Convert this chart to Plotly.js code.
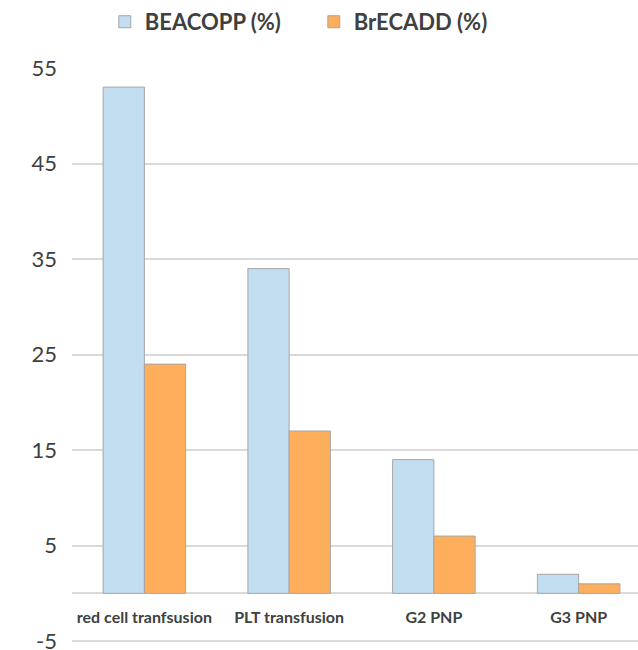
<!DOCTYPE html>
<html>
<head>
<meta charset="utf-8">
<script src="https://cdn.plot.ly/plotly-3.0.1.min.js"></script>
<style>
  html, body { margin: 0; padding: 0; background: #fff; overflow: hidden; }
  #chart { width: 638px; height: 650px; }
</style>
</head>
<body>
<div id="chart"></div>
<script>
// Adverse event rates by regimen
const categories = ["red cell tranfsusion", "PLT transfusion", "G2 PNP", "G3 PNP"];
const beacopp = [53, 34, 14, 2];
const brecadd = [24, 17, 6, 1];
const seriesNames = ["BEACOPP (%)", "BrECADD (%)"];
const yTickVals = [-5, 5, 15, 25, 35, 45, 55];
const yTickText = ["-5", "5", "15", "25", "35", "45", "55"];

const textColor = "#404040";
const gridColor = "#d9d9d9";
const yMin = -5.3, yMax = 55;

const traces = [
  {
    type: "bar",
    name: seriesNames[0],
    x: categories,
    y: beacopp,
    marker: { color: "#c3ddf0", line: { color: "#a6a6a6", width: 1 } },
    hoverinfo: "x+y"
  },
  {
    type: "bar",
    name: seriesNames[1],
    x: categories,
    y: brecadd,
    marker: { color: "#ffae5c", line: { color: "#a6a6a6", width: 1 } },
    hoverinfo: "x+y"
  }
];

const layout = {
  width: 638,
  height: 650,
  margin: { l: 72, r: 0, t: 68, b: 6, pad: 0, autoexpand: false },
  paper_bgcolor: "#ffffff",
  plot_bgcolor: "#ffffff",
  font: { family: "Lato, 'Open Sans', sans-serif", color: textColor },
  barmode: "group",
  bargap: 0.43,
  bargroupgap: 0,
  showlegend: true,
  legend: {
    orientation: "h",
    x: 0.058,
    xanchor: "left",
    y: 1.08,
    yanchor: "middle",
    font: { size: 22, family: "Lato, 'Open Sans', sans-serif", color: textColor, weight: "bold" },
    entrywidth: 164,
    traceorder: "normal",
    bgcolor: "rgba(0,0,0,0)"
  },
  xaxis: {
    type: "category",
    range: [-0.5, 3.41],
    anchor: "free",
    position: -yMin / (yMax - yMin),
    showgrid: false,
    showline: false,
    zeroline: false,
    ticks: "",
    ticklabelstandoff: 13,
    tickfont: { size: 16, color: textColor, weight: "bold" },
    fixedrange: true
  },
  yaxis: {
    range: [yMin, yMax],
    tickmode: "array",
    tickvals: yTickVals,
    ticktext: yTickText,
    showgrid: true,
    gridcolor: gridColor,
    gridwidth: 2,
    zeroline: true,
    zerolinecolor: gridColor,
    zerolinewidth: 2,
    showline: false,
    ticks: "",
    ticklabelstandoff: 14,
    ticklabeloverflow: "allow",
    tickfont: { size: 22, color: textColor },
    fixedrange: true
  }
};

Plotly.newPlot("chart", traces, layout, { displayModeBar: false, staticPlot: true });
</script>
</body>
</html>
